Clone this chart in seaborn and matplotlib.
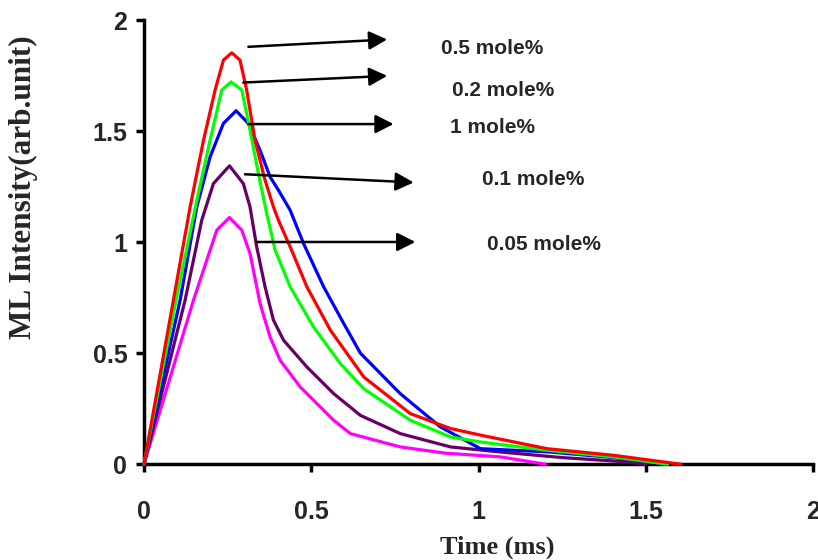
import pandas as pd
import matplotlib.pyplot as plt
import seaborn as sns

# Values
red_x = [0, 0.088, 0.138, 0.148, 0.178, 0.2126, 0.2375, 0.2625, 0.287, 0.307, 0.332, 0.362, 0.387, 0.402, 0.437, 0.487, 0.557, 0.657, 0.796, 0.916, 1.006, 1.205, 1.405, 1.605]
red_y = [0, 0.739, 1.159, 1.234, 1.459, 1.685, 1.82, 1.853, 1.82, 1.685, 1.459, 1.279, 1.159, 1.099, 0.979, 0.799, 0.604, 0.393, 0.228, 0.161, 0.131, 0.07, 0.04, 0]

green_x = [0, 0.096, 0.158, 0.1976, 0.2325, 0.2605, 0.2925, 0.317, 0.342, 0.367, 0.392, 0.437, 0.507, 0.587, 0.657, 0.796, 0.916, 1.006, 1.205, 1.405, 1.565]
green_y = [0, 0.739, 1.189, 1.459, 1.685, 1.722, 1.685, 1.505, 1.309, 1.129, 0.964, 0.799, 0.618, 0.453, 0.34, 0.198, 0.123, 0.1, 0.063, 0.033, 0]

blue_x = [0, 0.108, 0.158, 0.1976, 0.2375, 0.2755, 0.312, 0.347, 0.377, 0.402, 0.437, 0.477, 0.537, 0.597, 0.647, 0.766, 0.886, 1.006, 1.205, 1.405, 1.565]
blue_y = [0, 0.739, 1.159, 1.384, 1.535, 1.592, 1.535, 1.414, 1.294, 1.234, 1.144, 0.994, 0.799, 0.634, 0.5, 0.318, 0.168, 0.07, 0.056, 0.03, 0]

purple_x = [0, 0.123, 0.1727, 0.2076, 0.2555, 0.297, 0.317, 0.337, 0.362, 0.387, 0.417, 0.487, 0.567, 0.647, 0.766, 0.916, 1.066, 1.25, 1.45, 1.5]
purple_y = [0, 0.739, 1.099, 1.264, 1.344, 1.264, 1.159, 0.979, 0.799, 0.649, 0.559, 0.438, 0.318, 0.22, 0.138, 0.078, 0.055, 0.03, 0.01, 0]

magenta_x = [0, 0.148, 0.2176, 0.2555, 0.2925, 0.317, 0.347, 0.377, 0.407, 0.467, 0.567, 0.617, 0.766, 0.9, 1.066, 1.2]
magenta_y = [0, 0.739, 1.054, 1.111, 1.054, 0.949, 0.724, 0.573, 0.468, 0.348, 0.198, 0.138, 0.078, 0.05, 0.033, 0]

series = [
    ("0.5 mole%", red_x, red_y, "#ff0000"),
    ("0.2 mole%", green_x, green_y, "#00ff00"),
    ("1 mole%", blue_x, blue_y, "#0000ff"),
    ("0.1 mole%", purple_x, purple_y, "#660066"),
    ("0.05 mole%", magenta_x, magenta_y, "#ff00ff"),
]

# arrow start / end and label positions (data coords)
arrow_start = [(0.312, 1.88), (0.297, 1.719), (0.312, 1.532), (0.302, 1.306), (0.337, 1.001)]
arrow_end = [(0.727, 1.913), (0.727, 1.749), (0.746, 1.532), (0.806, 1.269), (0.811, 1.001)]
label_pos = [(0.889, 1.874), (0.921, 1.685), (0.916, 1.517), (1.011, 1.282), (1.026, 0.991)]

sns.set_style("ticks")
plt.rcParams['font.family'] = ['Liberation Sans', 'DejaVu Sans']

fig = plt.figure(figsize=(8.18, 5.6), dpi=100)
ax = fig.add_axes([0.176, 0.171, 0.818, 0.793])

# draw in reverse so red ends up on top
for name, xs, ys, col in series[::-1]:
    df = pd.DataFrame({"x": xs, "y": ys})
    sns.lineplot(data=df, x="x", y="y", sort=False, estimator=None, color=col,
                 linewidth=2.3, ax=ax, clip_on=False, zorder=3,
                 solid_joinstyle="round", solid_capstyle="round")

for (name, _, _, _), s, e, p in zip(series, arrow_start, arrow_end, label_pos):
    ax.annotate("", xy=e, xytext=s,
                arrowprops=dict(arrowstyle="-|>,head_length=0.55,head_width=0.28",
                                color="black", lw=1.8, shrinkA=0, shrinkB=0,
                                mutation_scale=20))
    ax.text(p[0], p[1], name, fontsize=15, fontweight="bold", ha="left", va="center")

ax.set_xlim(0, 2)
ax.set_ylim(0, 2)
ax.set_xticks([0, 0.5, 1, 1.5, 2])
ax.set_xticklabels(["0", "0.5", "1", "1.5", "2"])
ax.set_yticks([0, 0.5, 1, 1.5, 2])
ax.set_yticklabels(["0", "0.5", "1", "1.5", "2"])
sns.despine(ax=ax)
for sp in ["left", "bottom"]:
    ax.spines[sp].set_linewidth(2.5)
    ax.spines[sp].set_color("black")
ax.tick_params(axis="both", direction="out", length=6, width=2.5, color="black",
               labelsize=18)
ax.tick_params(axis="x", pad=20)
ax.tick_params(axis="y", pad=6)
for lab in ax.get_xticklabels() + ax.get_yticklabels():
    lab.set_fontweight("bold")

ax.set_xlabel("Time (ms)", fontsize=19, fontweight="bold", family="Liberation Serif")
ax.set_ylabel("ML Intensity(arb.unit)", fontsize=22.5, fontweight="bold", family="Liberation Serif")
ax.xaxis.set_label_coords(0.528, -0.16)
ax.yaxis.set_label_coords(-0.158, 0.624)

fig.savefig("out.png", dpi=100)
